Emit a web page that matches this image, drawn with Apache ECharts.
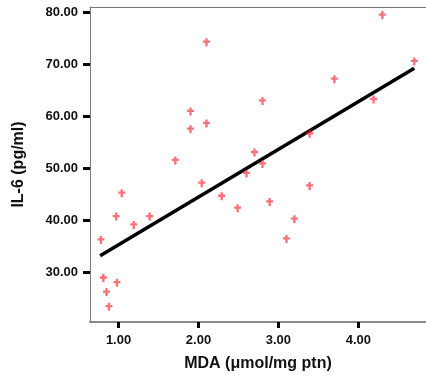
<!DOCTYPE html>
<html><head><meta charset="utf-8">
<script src="https://cdn.jsdelivr.net/npm/echarts@6/dist/echarts.min.js"></script>
<style>html,body{margin:0;padding:0;background:#fff}#c{width:426px;height:377px}</style>
</head><body><div id="c"></div>
<script>
var mdaValues = [0.78,0.81,0.85,0.88,0.97,0.98,1.04,1.19,1.39,1.71,1.90,1.90,2.04,2.10,2.10,2.29,2.49,2.60,2.70,2.80,2.80,2.89,3.10,3.20,3.39,3.39,3.70,4.19,4.30,4.70];
var il6Values = [36.2,28.9,26.2,23.4,40.7,28.0,45.2,39.1,40.7,51.5,60.9,57.5,47.1,74.2,58.6,44.6,42.3,49.0,53.0,62.9,50.8,43.5,36.4,40.2,56.6,46.6,67.1,63.2,79.4,70.5];
var fitX = [0.77, 4.70];
var fitY = [33.2, 69.2];
var xTicks = [1, 2, 3, 4];
var yTicks = [30, 40, 50, 60, 70, 80];

var pts = mdaValues.map(function(v,i){return [v, il6Values[i]];});
var fit = fitX.map(function(v,i){return [v, fitY[i]];});
var font = 'Liberation Sans, Arial, sans-serif';
var chart = echarts.init(document.getElementById('c'), null, {renderer:'canvas'});
chart.setOption({
  animation:false,
  grid:{left:90, top:7, right:0, bottom:55, containLabel:false},
  xAxis:[{
    type:'value', min:0.643, max:4.846,
    name:'MDA (μmol/mg ptn)', nameLocation:'middle', nameGap:34,
    nameTextStyle:{fontFamily:font, fontWeight:'bold', fontSize:16, color:'#111'},
    axisLine:{show:true, lineStyle:{color:'#888', width:2}},
    axisTick:{show:true, customValues:xTicks, length:6, lineStyle:{color:'#000', width:3}},
    axisLabel:{customValues:xTicks, margin:12, fontFamily:font, fontWeight:'bold', fontSize:13, color:'#111',
      formatter:function(v){return v.toFixed(2);}},
    splitLine:{show:false}
  },{
    type:'value', position:'top', min:0.643, max:4.846,
    axisLine:{show:true, lineStyle:{color:'#777', width:1}},
    axisTick:{show:false}, axisLabel:{show:false}, splitLine:{show:false}
  }],
  yAxis:{
    type:'value', min:20.46, max:80.96,
    name:'IL-6 (pg/ml)', nameLocation:'middle', nameGap:63,
    nameTextStyle:{fontFamily:font, fontWeight:'bold', fontSize:16, color:'#111'},
    axisLine:{show:true, lineStyle:{color:'#777', width:1}},
    axisTick:{show:true, customValues:yTicks, length:7, lineStyle:{color:'#000', width:3}},
    axisLabel:{customValues:yTicks, margin:12, fontFamily:font, fontWeight:'bold', fontSize:13, color:'#111',
      formatter:function(v){return v.toFixed(2);}},
    splitLine:{show:false}
  },
  series:[{
    type:'line', data:fit, symbol:'none', silent:true,
    lineStyle:{color:'#000', width:3.5}, z:2
  },{
    type:'scatter', data:pts,
    symbol:'path://M2,0h2v2h2v2h-2v3h-2v-3h-2v-2h2z', symbolSize:[7,8],
    itemStyle:{color:'rgba(255,30,40,0.8)'}, z:3
  }]
});
</script></body></html>
